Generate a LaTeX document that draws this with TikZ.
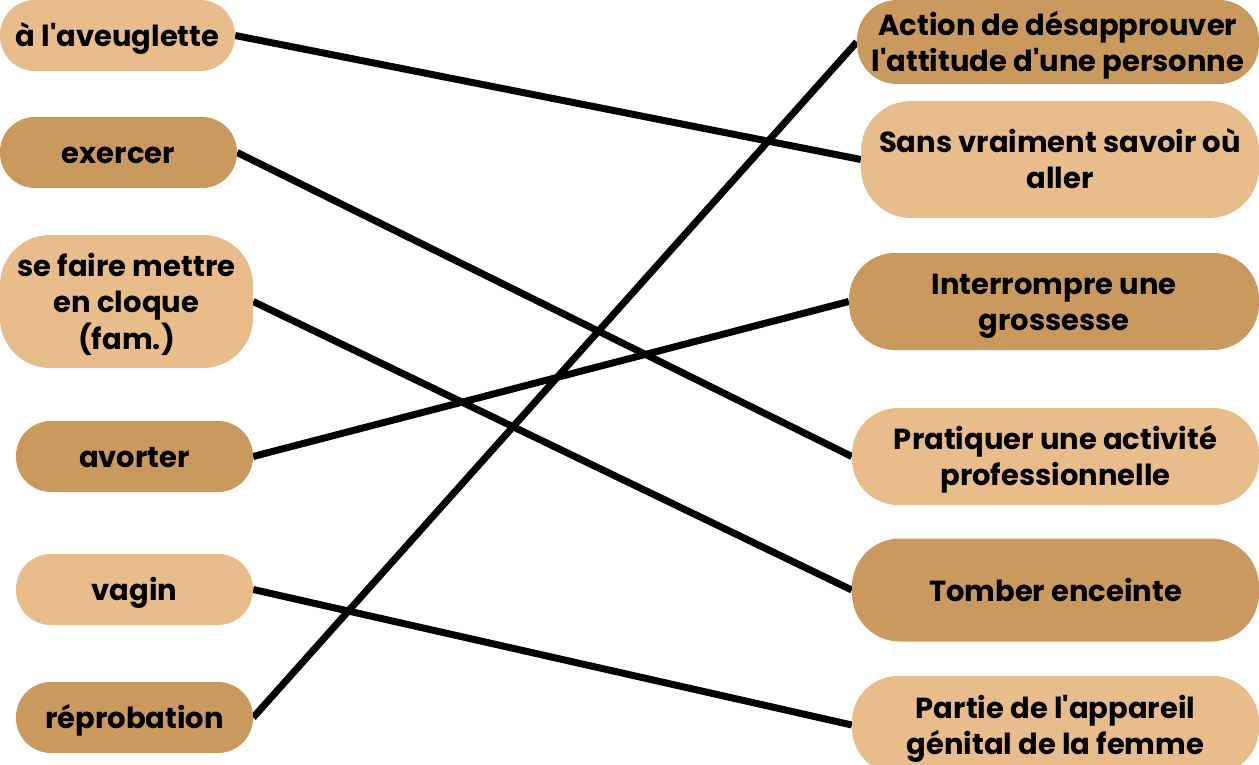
\documentclass[tikz,border=0pt]{standalone}
\usepackage{fontspec}
\setmainfont{Poppins}
\definecolor{lightsand}{HTML}{E9BC8B}
\definecolor{darksand}{HTML}{C9995D}
\pgfdeclarelayer{background}
\pgfsetlayers{background,main}
% text sits a little below the middle of each box
\newcommand{\boxtext}[1]{\raisebox{-4pt}[\height][\depth]{\begin{tabular}{@{}c@{}}#1\end{tabular}}}

\begin{document}
\begin{tikzpicture}[x=1pt,y=-1pt,
		word/.style={rectangle,inner sep=0pt,
			font=\fontsize{29}{36}\selectfont\bfseries},
		lightbox/.style={word,fill=lightsand},
		darkbox/.style={word,fill=darksand},
		link/.style={line width=7pt,black}]
			\useasboundingbox (0,0) rectangle (1259,765);
			% left column
			\node[lightbox,minimum width=235,minimum height=71,rounded corners=35] (aveuglette) at (117.5,35.5) {\boxtext{à l\textquotesingle aveuglette}};
			\node[darkbox,minimum width=237,minimum height=71,rounded corners=35] (exercer) at (118.5,152.5) {\boxtext{exercer}};
			\node[lightbox,minimum width=253,minimum height=133,rounded corners=50] (cloque) at (126.5,301.5) {\boxtext{se faire mettre\\en cloque\\(fam.)}};
			\node[darkbox,minimum width=237,minimum height=71,rounded corners=35] (avorter) at (134.5,456.5) {\boxtext{avorter}};
			\node[lightbox,minimum width=237,minimum height=71,rounded corners=35] (vagin) at (134.5,589.5) {\boxtext{vagin}};
			\node[darkbox,minimum width=237,minimum height=71,rounded corners=35] (reprobation) at (134.5,717.5) {\boxtext{réprobation}};
			% right column
			\node[darkbox,minimum width=402,minimum height=84,rounded corners=40] (desapprouver) at (1058,42) {\boxtext{Action de désapprouver\\l\textquotesingle attitude d\textquotesingle une personne}};
			\node[lightbox,minimum width=398,minimum height=117,rounded corners=50] (savoir) at (1060,159.5) {\boxtext{Sans vraiment savoir où\\aller}};
			\node[darkbox,minimum width=410,minimum height=97,rounded corners=46] (interrompre) at (1054,301.5) {\boxtext{Interrompre une\\grossesse}};
			\node[lightbox,minimum width=407,minimum height=97,rounded corners=46] (pratiquer) at (1055.5,456.5) {\boxtext{Pratiquer une activité\\professionnelle}};
			\node[darkbox,minimum width=407,minimum height=103,rounded corners=48] (enceinte) at (1055.5,590) {\boxtext{Tomber enceinte}};
			\node[lightbox,minimum width=407,minimum height=98,rounded corners=46] (femme) at (1055.5,725) {\boxtext{Partie de l\textquotesingle appareil\\génital de la femme}};
			% connectors
			\begin{pgfonlayer}{background}
				\draw[link] (aveuglette.east) -- (savoir.west);
				\draw[link] (exercer.east) -- (pratiquer.west);
				\draw[link] (cloque.east) -- (enceinte.west);
				\draw[link] (avorter.east) -- (interrompre.west);
				\draw[link] (vagin.east) -- (femme.west);
				\draw[link] (reprobation.east) -- (desapprouver.west);
			\end{pgfonlayer}
		\end{tikzpicture}
\end{document}
